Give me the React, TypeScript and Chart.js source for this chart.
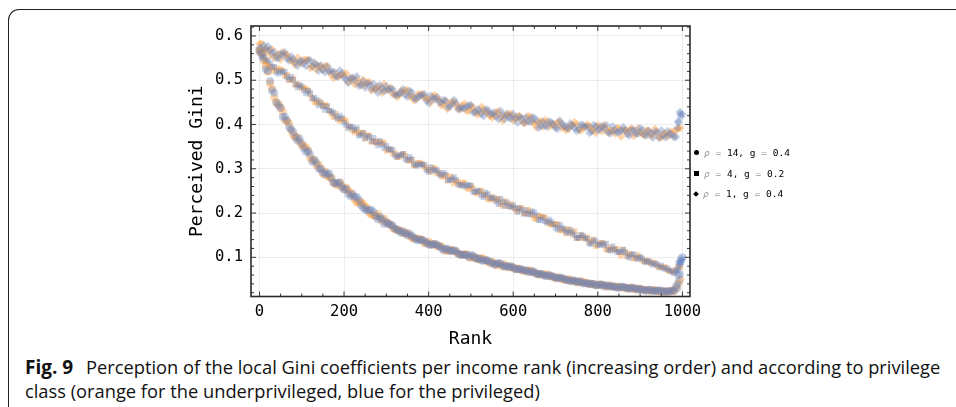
import React, { useEffect, useRef } from "react";
import Chart from "chart.js/auto";

const MONO = "'DejaVu Sans Mono', monospace";

// two interleaved rank grids (both classes are sampled on both)
const ranksA = [
  0, 10, 20, 30, 40, 50, 60, 70, 80, 90,
  100, 110, 120, 130, 140, 150, 160, 170, 180, 190,
  200, 210, 220, 230, 240, 250, 260, 270, 280, 290,
  300, 310, 320, 330, 340, 350, 360, 370, 380, 390,
  400, 410, 420, 430, 440, 450, 460, 470, 480, 490,
  500, 510, 520, 530, 540, 550, 560, 570, 580, 590,
  600, 610, 620, 630, 640, 650, 660, 670, 680, 690,
  700, 710, 720, 730, 740, 750, 760, 770, 780, 790,
  800, 810, 820, 830, 840, 850, 860, 870, 880, 890,
  900, 910, 920, 930, 940, 950, 960, 970, 980, 990,
];
const ranksB = [
  5, 15, 25, 35, 45, 55, 65, 75, 85, 95,
  105, 115, 125, 135, 145, 155, 165, 175, 185, 195,
  205, 215, 225, 235, 245, 255, 265, 275, 285, 295,
  305, 315, 325, 335, 345, 355, 365, 375, 385, 395,
  405, 415, 425, 435, 445, 455, 465, 475, 485, 495,
  505, 515, 525, 535, 545, 555, 565, 575, 585, 595,
  605, 615, 625, 635, 645, 655, 665, 675, 685, 695,
  705, 715, 725, 735, 745, 755, 765, 775, 785, 795,
  805, 815, 825, 835, 845, 855, 865, 875, 885, 895,
  905, 915, 925, 935, 945, 955, 965, 975, 985, 995,
];

// rho = 1, g = 0.4 (diamonds)
const diamondOrangeA = [
  0.582, 0.566, 0.568, 0.57, 0.556, 0.547, 0.558, 0.55, 0.542, 0.551,
  0.539, 0.545, 0.528, 0.537, 0.532, 0.523, 0.532, 0.513, 0.517, 0.51,
  0.512, 0.496, 0.503, 0.503, 0.489, 0.489, 0.496, 0.482, 0.486, 0.472,
  0.479, 0.483, 0.47, 0.466, 0.473, 0.477, 0.465, 0.458, 0.468, 0.461,
  0.456, 0.463, 0.457, 0.443, 0.453, 0.445, 0.451, 0.437, 0.443, 0.431,
  0.442, 0.43, 0.426, 0.433, 0.427, 0.416, 0.428, 0.417, 0.421, 0.424,
  0.41, 0.418, 0.411, 0.405, 0.417, 0.403, 0.406, 0.395, 0.406, 0.401,
  0.395, 0.406, 0.395, 0.39, 0.398, 0.4, 0.386, 0.394, 0.396, 0.388,
  0.398, 0.385, 0.391, 0.387, 0.38, 0.391, 0.388, 0.38, 0.391, 0.38,
  0.382, 0.375, 0.386, 0.377, 0.383, 0.371, 0.38, 0.382, 0.375, 0.391,
];
const diamondOrangeB = [
  0.583, 0.572, 0.558, 0.551, 0.559, 0.563, 0.557, 0.545, 0.535, 0.54,
  0.546, 0.547, 0.531, 0.524, 0.531, 0.532, 0.52, 0.505, 0.508, 0.513,
  0.516, 0.504, 0.491, 0.493, 0.501, 0.495, 0.477, 0.479, 0.482, 0.491,
  0.479, 0.469, 0.463, 0.476, 0.477, 0.464, 0.455, 0.468, 0.469, 0.459,
  0.45, 0.466, 0.456, 0.445, 0.435, 0.451, 0.445, 0.434, 0.447, 0.431,
  0.438, 0.422, 0.44, 0.428, 0.419, 0.421, 0.429, 0.409, 0.421, 0.423,
  0.412, 0.419, 0.403, 0.419, 0.406, 0.394, 0.407, 0.41, 0.395, 0.401,
  0.405, 0.393, 0.387, 0.398, 0.405, 0.388, 0.394, 0.4, 0.389, 0.381,
  0.394, 0.398, 0.381, 0.386, 0.392, 0.373, 0.387, 0.388, 0.374, 0.391,
  0.379, 0.387, 0.375, 0.39, 0.37, 0.379, 0.373, 0.384, 0.387, 0.392,
];
const diamondBlueA = [
  0.573, 0.579, 0.577, 0.56, 0.55, 0.56, 0.563, 0.544, 0.548, 0.532,
  0.544, 0.532, 0.545, 0.539, 0.521, 0.524, 0.531, 0.521, 0.509, 0.522,
  0.506, 0.494, 0.506, 0.509, 0.49, 0.483, 0.491, 0.492, 0.471, 0.481,
  0.487, 0.48, 0.467, 0.47, 0.48, 0.463, 0.473, 0.456, 0.465, 0.469,
  0.448, 0.458, 0.462, 0.449, 0.454, 0.44, 0.456, 0.434, 0.438, 0.441,
  0.444, 0.427, 0.433, 0.419, 0.433, 0.425, 0.418, 0.431, 0.412, 0.416,
  0.424, 0.404, 0.414, 0.416, 0.405, 0.415, 0.392, 0.406, 0.395, 0.405,
  0.392, 0.409, 0.398, 0.391, 0.398, 0.385, 0.4, 0.395, 0.381, 0.399,
  0.387, 0.397, 0.399, 0.38, 0.388, 0.383, 0.394, 0.378, 0.388, 0.38,
  0.392, 0.377, 0.386, 0.37, 0.382, 0.387, 0.371, 0.378, 0.371, 0.407,
];
const diamondBlueB = [
  0.571, 0.568, 0.569, 0.563, 0.55, 0.558, 0.549, 0.554, 0.54, 0.543,
  0.538, 0.545, 0.531, 0.535, 0.534, 0.518, 0.52, 0.519, 0.508, 0.516,
  0.502, 0.505, 0.499, 0.487, 0.498, 0.492, 0.48, 0.481, 0.489, 0.475,
  0.478, 0.48, 0.466, 0.473, 0.466, 0.476, 0.461, 0.463, 0.466, 0.454,
  0.465, 0.458, 0.45, 0.456, 0.439, 0.446, 0.448, 0.437, 0.436, 0.443,
  0.427, 0.434, 0.424, 0.434, 0.424, 0.427, 0.412, 0.421, 0.424, 0.413,
  0.415, 0.418, 0.404, 0.407, 0.416, 0.408, 0.397, 0.397, 0.407, 0.4,
  0.39, 0.401, 0.393, 0.403, 0.392, 0.389, 0.399, 0.395, 0.384, 0.396,
  0.389, 0.391, 0.382, 0.396, 0.382, 0.386, 0.387, 0.375, 0.388, 0.379,
  0.388, 0.375, 0.38, 0.384, 0.37, 0.375, 0.385, 0.378, 0.372, 0.424,
];

// rho = 4, g = 0.2 (squares)
const squareOrangeA = [
  0.566, 0.554, 0.535, 0.527, 0.527, 0.525, 0.51, 0.5, 0.504, 0.492,
  0.482, 0.48, 0.468, 0.451, 0.453, 0.442, 0.442, 0.425, 0.424, 0.408,
  0.411, 0.395, 0.387, 0.388, 0.38, 0.368, 0.375, 0.363, 0.362, 0.36,
  0.341, 0.344, 0.335, 0.327, 0.334, 0.32, 0.32, 0.307, 0.313, 0.305,
  0.297, 0.302, 0.29, 0.283, 0.286, 0.283, 0.267, 0.27, 0.268, 0.258,
  0.261, 0.247, 0.249, 0.241, 0.232, 0.237, 0.231, 0.222, 0.227, 0.215,
  0.214, 0.204, 0.211, 0.2, 0.202, 0.189, 0.194, 0.191, 0.181, 0.174,
  0.175, 0.162, 0.164, 0.164, 0.152, 0.143, 0.15, 0.142, 0.134, 0.14,
  0.129, 0.132, 0.118, 0.122, 0.118, 0.111, 0.118, 0.102, 0.106, 0.099,
  0.099, 0.09, 0.091, 0.088, 0.081, 0.078, 0.078, 0.069, 0.066, 0.079,
];
const squareOrangeB = [
  0.561, 0.545, 0.531, 0.521, 0.522, 0.521, 0.512, 0.501, 0.489, 0.487,
  0.483, 0.477, 0.459, 0.449, 0.447, 0.444, 0.431, 0.417, 0.414, 0.412,
  0.408, 0.395, 0.382, 0.38, 0.382, 0.376, 0.361, 0.359, 0.358, 0.358,
  0.344, 0.334, 0.326, 0.332, 0.329, 0.318, 0.308, 0.314, 0.311, 0.301,
  0.293, 0.301, 0.292, 0.283, 0.273, 0.279, 0.272, 0.262, 0.268, 0.254,
  0.256, 0.243, 0.251, 0.241, 0.231, 0.23, 0.232, 0.216, 0.221, 0.22,
  0.209, 0.211, 0.199, 0.207, 0.196, 0.186, 0.192, 0.19, 0.176, 0.175,
  0.174, 0.161, 0.154, 0.158, 0.159, 0.144, 0.145, 0.145, 0.135, 0.125,
  0.132, 0.131, 0.117, 0.117, 0.119, 0.104, 0.111, 0.108, 0.097, 0.105,
  0.094, 0.093, 0.086, 0.087, 0.079, 0.077, 0.071, 0.069, 0.071, 0.078,
];
const squareBlueA = [
  0.562, 0.553, 0.545, 0.531, 0.519, 0.521, 0.519, 0.502, 0.501, 0.484,
  0.486, 0.47, 0.472, 0.461, 0.443, 0.441, 0.441, 0.43, 0.418, 0.42,
  0.404, 0.391, 0.394, 0.392, 0.376, 0.369, 0.372, 0.37, 0.353, 0.355,
  0.352, 0.344, 0.331, 0.33, 0.334, 0.319, 0.322, 0.307, 0.31, 0.309,
  0.293, 0.297, 0.297, 0.286, 0.287, 0.274, 0.281, 0.264, 0.264, 0.263,
  0.262, 0.248, 0.249, 0.236, 0.243, 0.234, 0.226, 0.232, 0.216, 0.216,
  0.218, 0.202, 0.207, 0.206, 0.197, 0.201, 0.184, 0.19, 0.178, 0.18,
  0.167, 0.174, 0.163, 0.155, 0.156, 0.144, 0.15, 0.143, 0.131, 0.139,
  0.128, 0.132, 0.131, 0.115, 0.118, 0.112, 0.117, 0.103, 0.107, 0.099,
  0.101, 0.091, 0.092, 0.083, 0.084, 0.082, 0.073, 0.07, 0.064, 0.086,
];
const squareBlueB = [
  0.553, 0.542, 0.539, 0.53, 0.515, 0.518, 0.507, 0.508, 0.491, 0.489,
  0.477, 0.476, 0.459, 0.456, 0.45, 0.433, 0.431, 0.427, 0.413, 0.415,
  0.399, 0.396, 0.388, 0.375, 0.381, 0.374, 0.362, 0.36, 0.363, 0.347,
  0.344, 0.342, 0.327, 0.331, 0.322, 0.327, 0.311, 0.31, 0.309, 0.297,
  0.304, 0.296, 0.288, 0.291, 0.275, 0.276, 0.275, 0.264, 0.26, 0.263,
  0.248, 0.251, 0.24, 0.246, 0.234, 0.234, 0.22, 0.225, 0.224, 0.213,
  0.211, 0.211, 0.198, 0.198, 0.204, 0.195, 0.184, 0.181, 0.185, 0.175,
  0.163, 0.167, 0.158, 0.162, 0.15, 0.144, 0.149, 0.142, 0.13, 0.136,
  0.128, 0.127, 0.117, 0.125, 0.112, 0.113, 0.111, 0.099, 0.107, 0.096,
  0.098, 0.089, 0.088, 0.086, 0.077, 0.076, 0.075, 0.068, 0.072, 0.09,
];

// rho = 14, g = 0.4 (circles)
const circleOrangeA = [
  0.567, 0.544, 0.519, 0.48, 0.449, 0.438, 0.411, 0.402, 0.377, 0.371,
  0.353, 0.348, 0.325, 0.319, 0.309, 0.288, 0.285, 0.28, 0.266, 0.269,
  0.253, 0.251, 0.241, 0.224, 0.225, 0.214, 0.2, 0.196, 0.198, 0.182,
  0.179, 0.174, 0.164, 0.162, 0.155, 0.155, 0.145, 0.143, 0.141, 0.132,
  0.135, 0.13, 0.125, 0.125, 0.116, 0.117, 0.115, 0.108, 0.106, 0.107,
  0.099, 0.1, 0.095, 0.097, 0.091, 0.09, 0.082, 0.084, 0.084, 0.077,
  0.076, 0.075, 0.07, 0.069, 0.07, 0.066, 0.061, 0.06, 0.061, 0.057,
  0.053, 0.054, 0.05, 0.051, 0.046, 0.044, 0.046, 0.043, 0.039, 0.04,
  0.038, 0.038, 0.034, 0.037, 0.033, 0.033, 0.033, 0.029, 0.032, 0.028,
  0.029, 0.026, 0.026, 0.026, 0.024, 0.024, 0.024, 0.023, 0.024, 0.04,
];
const circleOrangeB = [
  0.561, 0.532, 0.493, 0.461, 0.446, 0.429, 0.408, 0.387, 0.37, 0.361,
  0.351, 0.34, 0.32, 0.307, 0.3, 0.294, 0.281, 0.268, 0.263, 0.261,
  0.257, 0.246, 0.231, 0.224, 0.221, 0.211, 0.196, 0.193, 0.189, 0.187,
  0.176, 0.167, 0.161, 0.159, 0.155, 0.148, 0.142, 0.142, 0.139, 0.133,
  0.128, 0.13, 0.125, 0.119, 0.114, 0.116, 0.112, 0.106, 0.107, 0.102,
  0.101, 0.096, 0.098, 0.092, 0.087, 0.086, 0.086, 0.079, 0.08, 0.079,
  0.074, 0.074, 0.07, 0.07, 0.066, 0.063, 0.063, 0.061, 0.057, 0.056,
  0.055, 0.051, 0.049, 0.048, 0.047, 0.043, 0.043, 0.042, 0.04, 0.037,
  0.038, 0.037, 0.034, 0.034, 0.034, 0.031, 0.031, 0.031, 0.028, 0.029,
  0.027, 0.027, 0.024, 0.026, 0.023, 0.023, 0.022, 0.025, 0.03, 0.05,
];
const circleBlueA = [
  0.567, 0.549, 0.521, 0.477, 0.45, 0.437, 0.418, 0.394, 0.383, 0.364,
  0.357, 0.338, 0.333, 0.32, 0.3, 0.292, 0.29, 0.279, 0.267, 0.269,
  0.254, 0.243, 0.243, 0.236, 0.218, 0.208, 0.207, 0.202, 0.186, 0.186,
  0.18, 0.173, 0.165, 0.16, 0.159, 0.15, 0.149, 0.141, 0.14, 0.137,
  0.129, 0.129, 0.128, 0.121, 0.12, 0.114, 0.116, 0.108, 0.106, 0.105,
  0.105, 0.098, 0.098, 0.092, 0.093, 0.088, 0.085, 0.086, 0.079, 0.078,
  0.077, 0.073, 0.072, 0.071, 0.067, 0.066, 0.062, 0.061, 0.058, 0.058,
  0.054, 0.054, 0.051, 0.048, 0.048, 0.044, 0.045, 0.042, 0.04, 0.04,
  0.037, 0.038, 0.037, 0.034, 0.034, 0.032, 0.033, 0.03, 0.031, 0.029,
  0.029, 0.026, 0.027, 0.024, 0.025, 0.025, 0.022, 0.023, 0.024, 0.06,
];
const circleBlueB = [
  0.56, 0.525, 0.498, 0.472, 0.443, 0.417, 0.409, 0.389, 0.372, 0.368,
  0.346, 0.34, 0.316, 0.313, 0.3, 0.287, 0.289, 0.269, 0.268, 0.258,
  0.255, 0.238, 0.237, 0.23, 0.212, 0.206, 0.207, 0.193, 0.191, 0.175,
  0.176, 0.172, 0.162, 0.155, 0.154, 0.153, 0.144, 0.138, 0.139, 0.133,
  0.129, 0.13, 0.125, 0.116, 0.119, 0.114, 0.114, 0.106, 0.106, 0.1,
  0.104, 0.097, 0.093, 0.094, 0.089, 0.083, 0.087, 0.081, 0.08, 0.08,
  0.073, 0.074, 0.071, 0.067, 0.069, 0.063, 0.063, 0.058, 0.06, 0.056,
  0.053, 0.054, 0.049, 0.046, 0.047, 0.046, 0.041, 0.041, 0.041, 0.037,
  0.039, 0.034, 0.036, 0.034, 0.031, 0.034, 0.032, 0.029, 0.031, 0.027,
  0.027, 0.024, 0.027, 0.024, 0.025, 0.022, 0.024, 0.025, 0.035, 0.09,
];

// upturn at the very top ranks (privileged agents)
const tailRanks = [988, 991, 994, 997, 1000];
const tailDiamond = [0.392, 0.405, 0.428, 0.418, 0.423];
const tailSquare = [0.069, 0.075, 0.082, 0.089, 0.095];
const tailCircle = [0.03, 0.045, 0.062, 0.096, 0.1];

const rhoValues = [14, 4, 1];
const gValues = [0.4, 0.2, 0.4];
const xTicks = [0, 200, 400, 600, 800, 1000];

const ORANGE = "rgba(255, 150, 45, 0.4)";
const BLUE = "rgba(100, 130, 192, 0.36)";

const toPoints = (xs: number[], ys: number[]) => xs.map((x, i) => ({ x, y: ys[i] }));

const framePlugin = {
  id: "mmaFrame",
  afterDatasetsDraw(chart: any) {
    const { ctx, chartArea: a, scales } = chart;
    const xs = scales.x;
    const ys = scales.y;
    ctx.save();
    ctx.strokeStyle = "#333";
    ctx.lineWidth = 1;
    ctx.beginPath();
    for (let v = 0; v <= 1000; v += 50) {
      const len = v % 200 === 0 ? 5 : 3;
      const px = xs.getPixelForValue(v);
      ctx.moveTo(px, a.bottom);
      ctx.lineTo(px, a.bottom - len);
      ctx.moveTo(px, a.top);
      ctx.lineTo(px, a.top + len);
    }
    for (let k = 1; k <= 31; k++) {
      const v = k * 0.02;
      if (v < ys.min || v > ys.max) continue;
      const len = k % 5 === 0 ? 5 : 3;
      const py = ys.getPixelForValue(v);
      ctx.moveTo(a.left, py);
      ctx.lineTo(a.left + len, py);
      ctx.moveTo(a.right, py);
      ctx.lineTo(a.right - len, py);
    }
    ctx.stroke();
    ctx.lineWidth = 1.6;
    ctx.strokeStyle = "#2a2a2a";
    ctx.strokeRect(a.left, a.top, a.right - a.left, a.bottom - a.top);
    ctx.restore();
  },
};

function Marker({ shape }: { shape: string }) {
  const base: React.CSSProperties = {
    display: "inline-block",
    width: 5,
    height: 5,
    background: "#000",
    marginRight: 5,
  };
  if (shape === "circle") return <span style={{ ...base, borderRadius: "50%" }} />;
  if (shape === "square") return <span style={{ ...base }} />;
  return <span style={{ ...base, width: 4, height: 4, transform: "rotate(45deg)" }} />;
}

export default function App() {
  const canvasEl = useRef<HTMLCanvasElement | null>(null);

  useEffect(() => {
    const ctx = canvasEl.current!.getContext("2d") as any;

    const series = [
      { style: "circle", r: 4, orangeA: circleOrangeA, orangeB: circleOrangeB, blueA: circleBlueA, blueB: circleBlueB, tail: tailCircle },
      { style: "rect", r: 4, orangeA: squareOrangeA, orangeB: squareOrangeB, blueA: squareBlueA, blueB: squareBlueB, tail: tailSquare },
      { style: "rectRot", r: 4.3, orangeA: diamondOrangeA, orangeB: diamondOrangeB, blueA: diamondBlueA, blueB: diamondBlueB, tail: tailDiamond },
    ];

    // Chart.js paints the first dataset last, so the blue (privileged) sets go first to sit on top
    const datasets: any[] = [];
    series.forEach((s) => {
      const common = { pointStyle: s.style, pointRadius: s.r, borderWidth: 0, pointBorderWidth: 0 };
      datasets.push({ ...common, data: toPoints(ranksA, s.blueA).concat(toPoints(tailRanks, s.tail)), backgroundColor: BLUE });
      datasets.push({ ...common, data: toPoints(ranksB, s.blueB), backgroundColor: BLUE });
      datasets.push({ ...common, data: toPoints(ranksB, s.orangeB), backgroundColor: ORANGE });
      datasets.push({ ...common, data: toPoints(ranksA, s.orangeA), backgroundColor: ORANGE });
    });

    const config: any = {
      type: "scatter",
      data: { datasets },
      options: {
        animation: false,
        responsive: true,
        maintainAspectRatio: false,
        events: [],
        layout: { padding: { left: 187, right: 266, top: 26, bottom: 0 } },
        plugins: { legend: { display: false }, tooltip: { enabled: false } },
        scales: {
          x: {
            type: "linear",
            min: -20,
            max: 1018,
            afterFit: (s: any) => {
              s.height = 53.5;
            },
            afterBuildTicks: (s: any) => {
              s.ticks = xTicks.map((v) => ({ value: v }));
            },
            ticks: {
              padding: 6,
              color: "#000",
              maxRotation: 0,
              autoSkip: false,
              font: { family: MONO, size: 15.5 },
              callback: (v: any) => String(v),
            },
            grid: { color: "rgba(0,0,0,0.07)", drawTicks: false },
            border: { display: false },
            title: {
              display: true,
              text: "Rank",
              color: "#000",
              padding: 0,
              font: { family: MONO, size: 18 },
            },
          },
          y: {
            type: "linear",
            min: 0.0115,
            max: 0.6225,
            afterFit: (s: any) => {
              s.width = 64;
            },
            ticks: {
              stepSize: 0.1,
              includeBounds: false,
              padding: 8,
              color: "#000",
              font: { family: MONO, size: 15.5 },
              callback: (v: any) => Number(v).toFixed(1),
            },
            grid: { color: "rgba(0,0,0,0.07)", drawTicks: false },
            border: { display: false },
            title: {
              display: true,
              text: "Perceived Gini",
              color: "#000",
              padding: 0,
              font: { family: MONO, size: 18 },
            },
          },
        },
      },
      plugins: [framePlugin],
    };

    const chart = new Chart(ctx, config);
    return () => {
      chart.destroy();
    };
  }, []);

  const shapes = ["circle", "square", "diamond"];

  return (
    <div style={{ position: "absolute", left: 0, top: 0, width: 956, height: 407, overflow: "hidden", background: "#fff" }}>
      <div
        style={{
          position: "absolute",
          left: 8,
          top: 9,
          width: 1000,
          height: 450,
          borderTop: "1.4px solid #222",
          borderLeft: "1.4px solid #222",
          borderTopLeftRadius: 11,
        }}
      />
      <div style={{ position: "absolute", left: 0, top: 0, width: 956, height: 350 }}>
        <canvas ref={canvasEl} />
      </div>
      <div style={{ position: "absolute", left: 694, top: 142, fontFamily: MONO, fontSize: 9.5, color: "#000" }}>
        {rhoValues.map((rho, i) => (
          <div key={i} style={{ height: 20.8, display: "flex", alignItems: "center", whiteSpace: "nowrap" }}>
            <Marker shape={shapes[i]} />
            <span style={{ color: "#999", fontStyle: "italic" }}>ρ</span>
            <span style={{ color: "#999" }}>&nbsp;=&nbsp;</span>
            <span>{rho},&nbsp;g&nbsp;</span>
            <span style={{ color: "#999" }}>=</span>
            <span>&nbsp;{gValues[i]}</span>
          </div>
        ))}
      </div>
      <div
        style={{
          position: "absolute",
          left: 25,
          top: 355,
          fontFamily: "'Open Sans', 'Noto Sans', sans-serif",
          fontSize: 18.3,
          lineHeight: "24px",
          color: "#111",
          whiteSpace: "nowrap",
        }}
      >
        <b style={{ display: "inline-block", width: 61, fontSize: 19 }}>Fig. 9</b>Perception of the local Gini coefficients per income rank (increasing order) and according to privilege
        <br />
        class (orange for the underprivileged, blue for the privileged)
      </div>
    </div>
  );
}
